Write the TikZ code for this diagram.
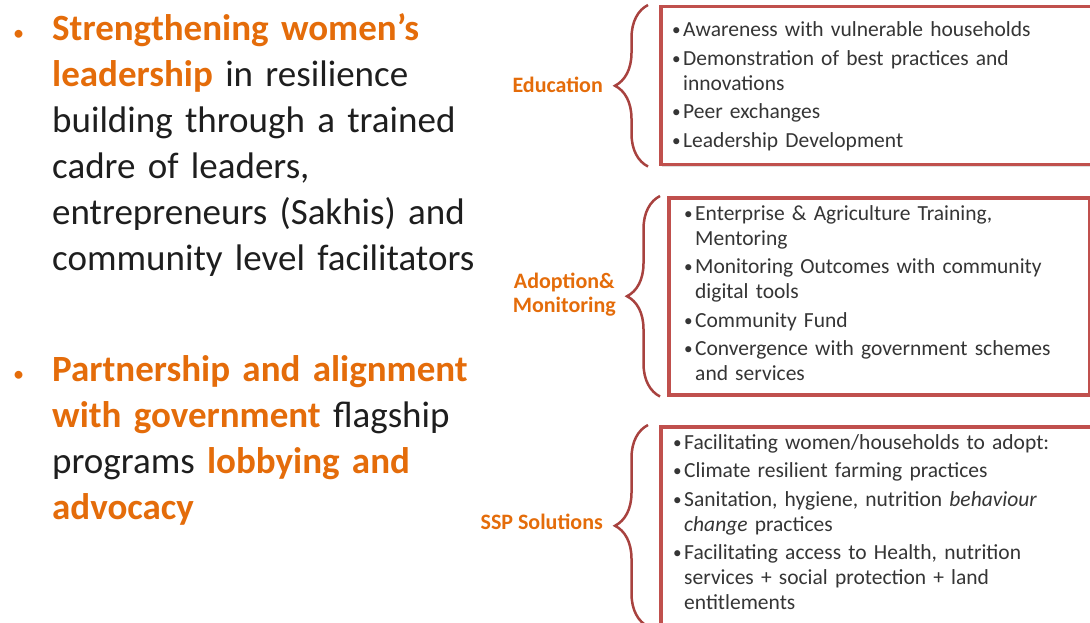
\documentclass[tikz,border=0pt]{standalone}
\usepackage{fontspec}
\setmainfont{Carlito}
\usetikzlibrary{positioning,decorations.pathreplacing,shadows}
\definecolor{accent}{HTML}{E46C0A}
\definecolor{frame}{HTML}{C0504D}
\definecolor{bracecol}{HTML}{A8423F}
\definecolor{ink}{HTML}{1E1E1E}
\newcommand{\orng}[1]{\textcolor{accent}{\bfseries #1}}
\newcommand{\itm}[1]{\noindent\hangindent=11pt\hangafter=1\hbox to 11pt{\raisebox{1pt}{\scalebox{0.8}{\textbullet}}\hss}#1\par\vspace{3.5pt}}
\newcommand{\brk}{\hfil\break}

\begin{document}
\begin{tikzpicture}[x=1pt,y=-1pt,
    lead/.style={font=\fontsize{37}{46}\selectfont, text=ink, inner sep=0pt, anchor=base west, text width=470pt, align=left},
    dot/.style={font=\fontsize{37}{46}\selectfont, text=accent, inner sep=0pt, anchor=base west},
    topic/.style={font=\fontsize{22}{24}\selectfont\bfseries, text=accent, inner sep=0pt, align=center, anchor=east},
    framebox/.style={draw=frame, line width=3.5pt, anchor=north west, inner sep=0pt, fill=white,
      drop shadow={opacity=0.25, shadow xshift=1pt, shadow yshift=-2pt}},
    items/.style={font=\fontsize{21.5}{25}\selectfont, text=ink!90, inner sep=0pt, anchor=base west, text width=440pt, align=left},
    curly/.style={draw=bracecol, line width=2.5pt, decorate, decoration={brace, amplitude=33pt}}]
  \useasboundingbox (0,0) rectangle (1090,623);
  \clip (0,0) rectangle (1090,623);
  % left column
  \node[dot] (dotone) at (13,41) {\scalebox{0.6}{\textbullet}};
  \node[lead] (leadone) at (52,41) {\orng{Strengthening women’s}\\
    \orng{leadership} in resilience\\
    building through a trained\\
    cadre of leaders,\\
    entrepreneurs (Sakhis) and\\
    community level facilitators};
  \node[dot] (dottwo) at (13,381) {\scalebox{0.6}{\textbullet}};
  \node[lead] (leadtwo) at (52,381) {\orng{Partnership and alignment}\\
    \orng{with government} flagship\\
    programs \orng{lobbying and}\\
    \orng{advocacy}};
  % boxes
  \node[framebox, minimum width=460pt, minimum height=158pt] (edubox) at (659,5) {};
  \node[framebox, minimum width=421pt, minimum height=197pt] (adopbox) at (667,196) {};
  \node[framebox, minimum width=460pt, minimum height=198pt] (sspbox) at (659,425) {};
  \node[items] (edulist) at (672,37) {\itm{Awareness with vulnerable households}
    \itm{Demonstration of best practices and\brk innovations}
    \itm{Peer exchanges}
    \itm{Leadership Development}};
  \node[items] (adoplist) at (684,220) {\itm{Enterprise \& Agriculture Training,\brk Mentoring}
    \itm{Monitoring Outcomes with community\brk digital tools}
    \itm{Community Fund}
    \itm{Convergence with government schemes\brk and services}};
  \node[items] (ssplist) at (673,449) {\itm{Facilitating women/households to adopt:}
    \itm{Climate resilient farming practices}
    \itm{Sanitation, hygiene, nutrition \textit{behaviour}\brk \textit{change} practices}
    \itm{Facilitating access to Health, nutrition\brk services + social protection + land\brk entitlements}};
  % braces and labels
  \draw[curly] ([xshift=-11pt]edubox.south west) -- ([xshift=-11pt]edubox.north west);
  \draw[curly] ([xshift=-7pt]adopbox.south west) -- ([xshift=-7pt]adopbox.north west);
  \draw[curly] ([xshift=-11pt]sspbox.south west) -- ([xshift=-11pt]sspbox.north west);
  \node[topic] (edu) at (603,85) {Education};
  \node[topic] (adop) at (616,295) {Adoption\&\\Monitoring};
  \node[topic] (ssp) at (603,522) {SSP Solutions};
\end{tikzpicture}
\end{document}
